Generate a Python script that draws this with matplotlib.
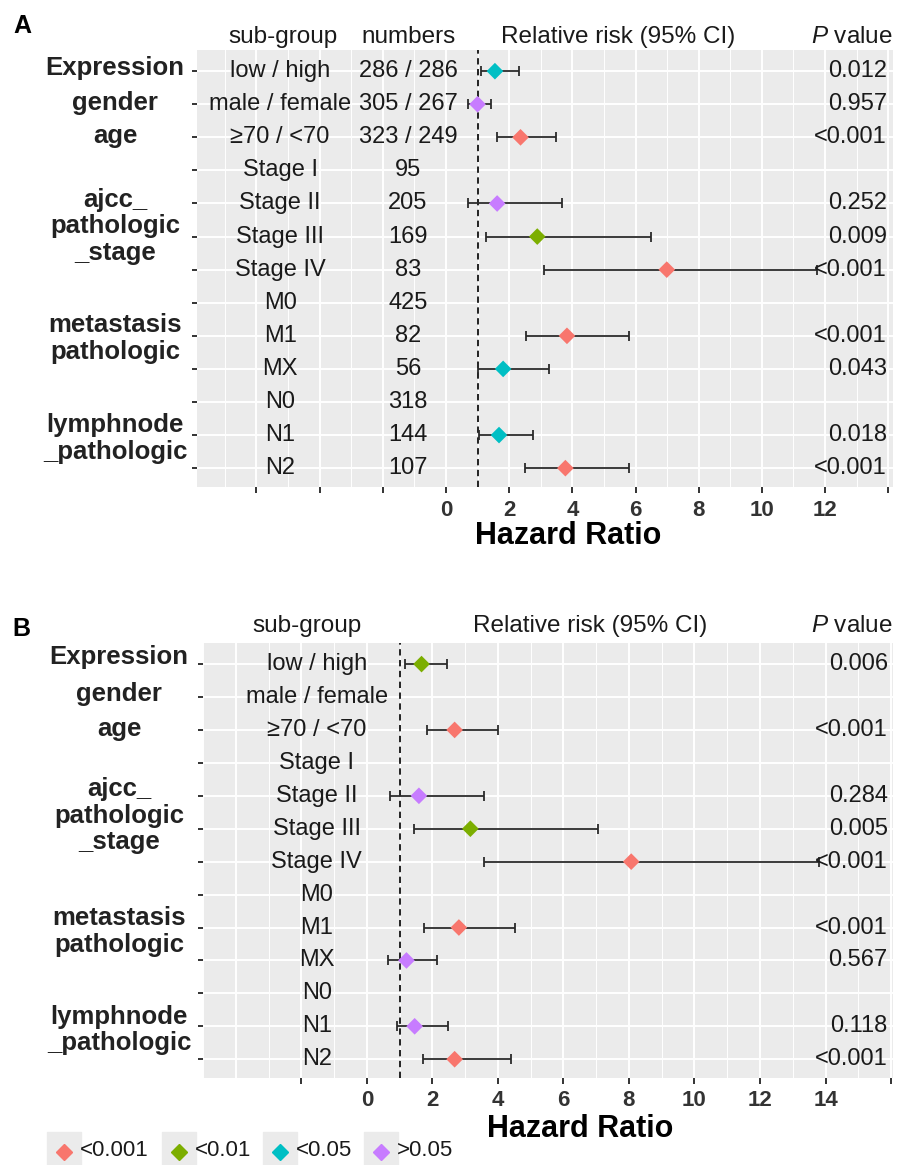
import numpy as np
import matplotlib
matplotlib.use("Agg")
import matplotlib.pyplot as plt
from matplotlib import transforms
from matplotlib.lines import Line2D
from matplotlib.patches import Rectangle

plt.rcParams["font.family"] = ["Liberation Sans", "DejaVu Sans"]
plt.rcParams["mathtext.fontset"] = "custom"
plt.rcParams["mathtext.rm"] = "Liberation Sans"
plt.rcParams["mathtext.it"] = "Liberation Sans:italic"

nan = np.nan

# rows shared by both forest plots
groups = ["Expression", "gender", "age", "ajcc_\npathologic\n_stage",
          "metastasis\npathologic", "lymphnode\n_pathologic"]
subgroups = ["low / high", "male / female", "\u226570 / <70", "Stage I", "Stage II",
             "Stage III", "Stage IV", "M0", "M1", "MX", "N0", "N1", "N2"]

# A: overall
numbers_a = ["286 / 286", "305 / 267", "323 / 249", "95", "205", "169", "83",
             "425", "82", "56", "318", "144", "107"]
hr_a = [1.55, 1.00, 2.36, nan, 1.62, 2.89, 6.99, nan, 3.83, 1.81, nan, 1.68, 3.78]
lo_a = [1.10, 0.71, 1.62, nan, 0.71, 1.26, 3.10, nan, 2.53, 1.00, nan, 1.05, 2.50]
hi_a = [2.30, 1.44, 3.47, nan, 3.68, 6.48, 11.75, nan, 5.78, 3.25, nan, 2.74, 5.78]
p_a = ["0.012", "0.957", "<0.001", "", "0.252", "0.009", "<0.001", "",
       "<0.001", "0.043", "", "0.018", "<0.001"]

# B: second cohort
hr_b = [1.67, nan, 2.68, nan, 1.59, 3.16, 8.07, nan, 2.81, 1.21, nan, 1.46, 2.68]
lo_b = [1.16, nan, 1.85, nan, 0.72, 1.44, 3.58, nan, 1.75, 0.65, nan, 0.92, 1.70]
hi_b = [2.45, nan, 4.00, nan, 3.58, 7.07, 13.80, nan, 4.53, 2.15, nan, 2.48, 4.39]
p_b = ["0.006", "", "<0.001", "", "0.284", "0.005", "<0.001", "",
       "<0.001", "0.567", "", "0.118", "<0.001"]

sig_labels = ["<0.001", "<0.01", "<0.05", ">0.05"]
sig_colors = ["#F8766D", "#7CAE00", "#00BFC4", "#C77CFF"]

PANEL = "#EBEBEB"
TEXT = "#1a1a1a"
W, H = 911, 1165


def fx(x):
    return x / W


def fy(y):
    return 1 - y / H


def sig_class(p):
    if p.startswith("<0.001"):
        return 0
    v = float(p)
    if v < 0.01:
        return 1
    if v < 0.05:
        return 2
    return 3


def draw_panel(ax, hr, lo, hi, pvals, xlim, ticks, nolabel, hidden_marks,
               sub_x, p_x, group_x, group_rows, numbers=None, num_x=None):
    rows = np.arange(len(subgroups))
    hr, lo, hi = np.array(hr), np.array(lo), np.array(hi)

    ax.set_facecolor(PANEL)
    ax.set_xlim(xlim)
    ax.set_ylim(12.57, -0.64)
    for s in ax.spines.values():
        s.set_visible(False)

    ax.set_xticks(ticks)
    ax.set_xticklabels(["" if t in nolabel else str(t) for t in ticks],
                       fontsize=16, fontweight="bold", color="#333333")
    odd = np.arange(np.floor(xlim[0]), xlim[1], 1)
    ax.set_xticks([v for v in odd if v % 2], minor=True)
    ax.tick_params(axis="x", which="major", length=4, width=1.4, color="#333333", pad=5)
    ax.tick_params(axis="x", which="minor", length=0)
    for t in ax.xaxis.get_major_ticks():
        if t.get_loc() in hidden_marks:
            t.tick1line.set_visible(False)
    ax.set_yticks(rows)
    ax.set_yticklabels([])
    ax.tick_params(axis="y", length=3.5, width=1.4, color="#333333")

    ax.set_axisbelow(True)
    ax.grid(which="major", color="white", lw=1.4)
    ax.grid(which="minor", axis="x", color="white", lw=0.7)

    ax.axvline(1, color="#111111", lw=1.3, ls=(0, (3.5, 2.5)), zorder=2)

    ax.errorbar(hr, rows, xerr=[hr - lo, hi - hr], fmt="none", ecolor="#2b2b2b",
                elinewidth=1.3, capsize=3.3, capthick=1.3, zorder=3)
    cols = [sig_colors[sig_class(p)] if p else "none" for p in pvals]
    ok = ~np.isnan(hr)
    ax.scatter(hr[ok], rows[ok], marker="D", s=72,
               c=[c for c, k in zip(cols, ok) if k], edgecolors="none", zorder=4)

    for r, lab in enumerate(subgroups):
        ax.text(sub_x, r, lab, ha="center", va="center", fontsize=17, color=TEXT, zorder=5)
        if numbers is not None:
            ax.text(num_x, r, numbers[r], ha="center", va="center", fontsize=17,
                    color=TEXT, zorder=5)
        if pvals[r]:
            ax.text(p_x, r, pvals[r], ha="right", va="center", fontsize=17,
                    color=TEXT, zorder=5)

    gtrans = transforms.blended_transform_factory(ax.figure.transFigure, ax.transData)
    for name, r in zip(groups, group_rows):
        ax.text(group_x, r, name, transform=gtrans, ha="center", va="center",
                fontsize=18.5, fontweight="bold", color="#222222", linespacing=1.12,
                clip_on=False)


fig = plt.figure(figsize=(W / 100, H / 100), dpi=100)

ax_a = fig.add_axes([fx(197), fy(487), (893 - 197) / W, (487 - 50) / H])
ax_b = fig.add_axes([fx(203), fy(1078), (893 - 203) / W, (1078 - 643) / H])

draw_panel(ax_a, hr_a, lo_a, hi_a, p_a, xlim=(-7.88, 14.15),
           ticks=list(range(-6, 15, 2)), nolabel=[-6, -4, -2, 14], hidden_marks=[],
           sub_x=-5.25, p_x=13.96, group_x=fx(115),
           group_rows=[-0.1, 0.95, 1.95, 4.69, 8.08, 11.1],
           numbers=numbers_a, num_x=-1.2)
draw_panel(ax_b, hr_b, lo_b, hi_b, p_b, xlim=(-5.0, 16.06),
           ticks=list(range(-4, 17, 2)), nolabel=[-4, -2, 16], hidden_marks=[-4],
           sub_x=-1.53, p_x=15.9, group_x=fx(119),
           group_rows=[-0.2, 0.9, 1.97, 4.6, 8.12, 11.12])

# column headers
hdr = dict(fontsize=17.5, color=TEXT, va="center")
fig.text(fx(283), fy(37), "sub-group", ha="center", **hdr)
fig.text(fx(409), fy(37), "numbers", ha="center", **hdr)
fig.text(fx(618), fy(37), "Relative risk (95% CI)", ha="center", **hdr)
fig.text(fx(893), fy(37), r"$P$ value", ha="right", **hdr)
fig.text(fx(307), fy(626), "sub-group", ha="center", **hdr)
fig.text(fx(590), fy(626), "Relative risk (95% CI)", ha="center", **hdr)
fig.text(fx(893), fy(626), r"$P$ value", ha="right", **hdr)

# x-axis titles
for ax, xc, yc in [(ax_a, 3.86, 536), (ax_b, 6.5, 1129)]:
    tr = transforms.blended_transform_factory(ax.transData, fig.transFigure)
    ax.text(xc, fy(yc), "Hazard Ratio", transform=tr, ha="center", va="center",
            fontsize=22, fontweight="bold", color="black", clip_on=False)

# panel letters
fig.text(fx(13), fy(26), "A", fontsize=18, fontweight="bold", va="center")
fig.text(fx(12), fy(629), "B", fontsize=18, fontweight="bold", va="center")

# significance legend
key_x = [47, 162, 263, 364]
for x0, lab, col in zip(key_x, sig_labels, sig_colors):
    fig.patches.append(Rectangle((fx(x0), 0), 34 / W, 33 / H,
                                 transform=fig.transFigure, color=PANEL, zorder=0))
    fig.add_artist(Line2D([fx(x0 + 17)], [fy(1152)], marker="D", ms=8.5, color=col,
                          ls="none", transform=fig.transFigure))
    fig.text(fx(x0 + 33), fy(1151), lab, fontsize=16, color=TEXT, va="center")

fig.savefig("out.png", dpi=100)
